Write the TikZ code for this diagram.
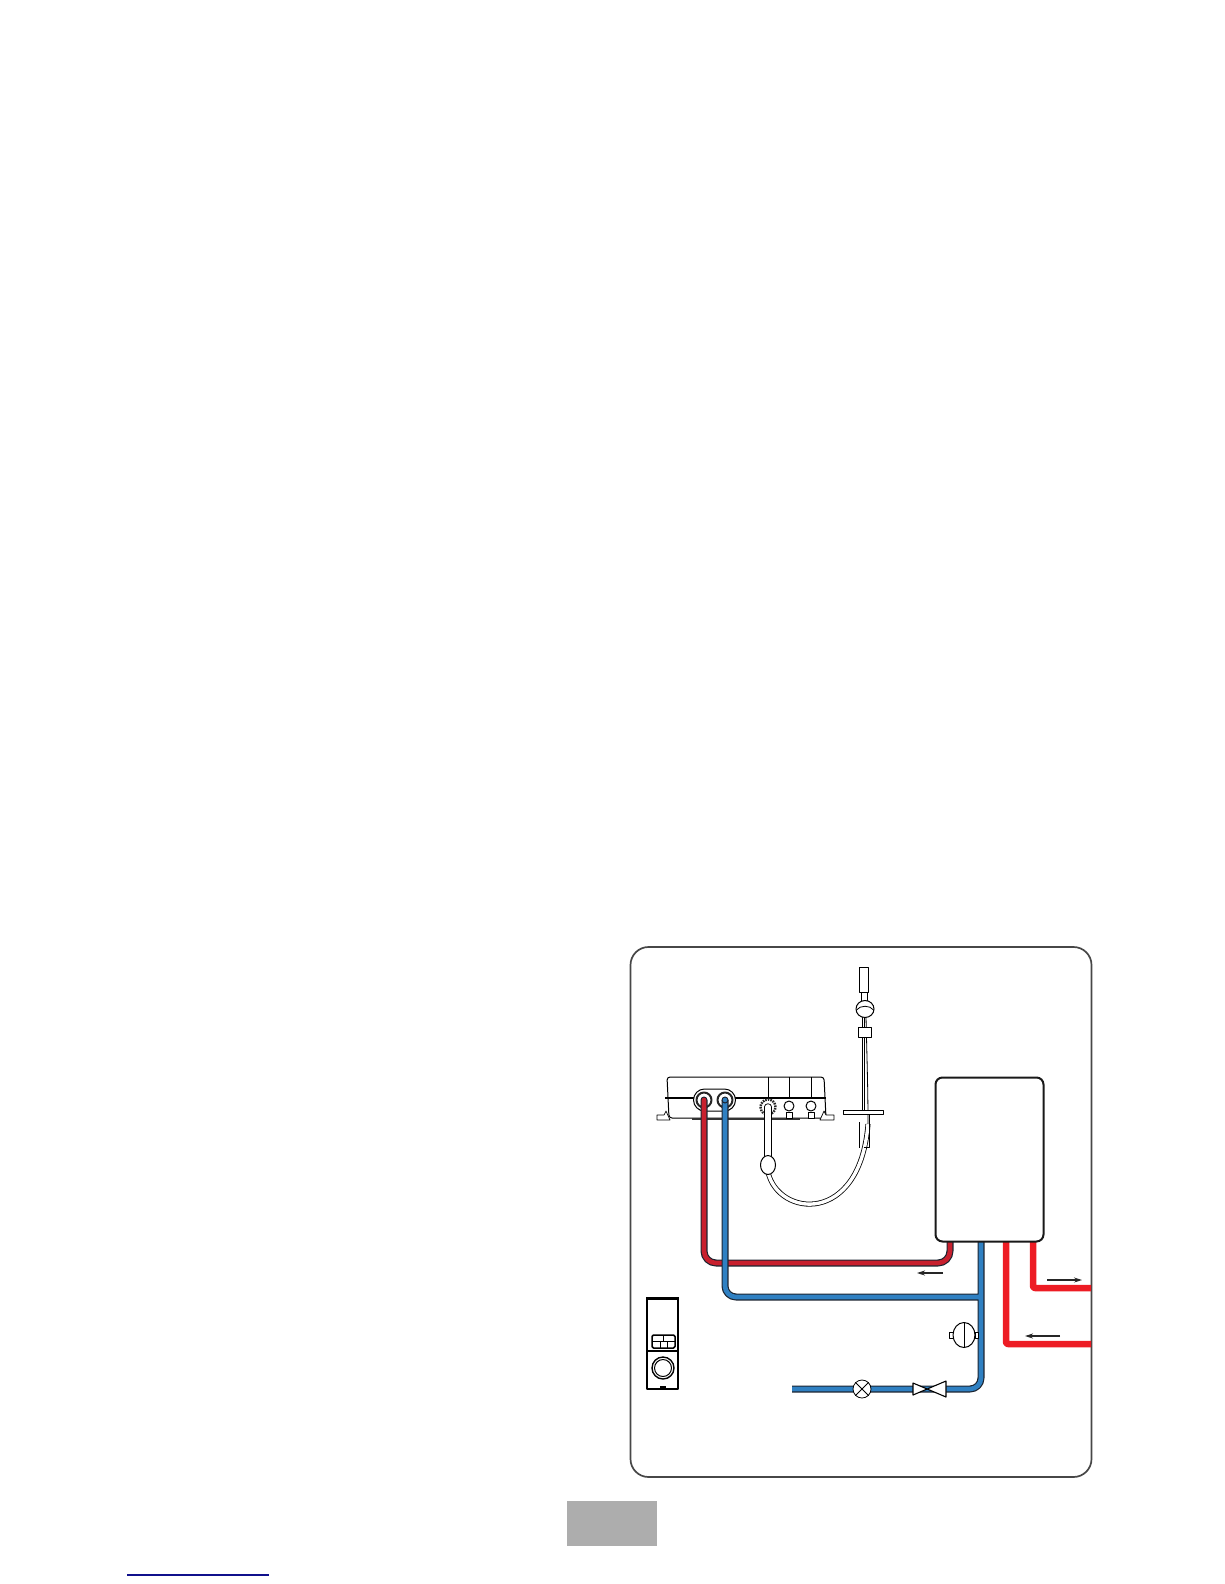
\documentclass[tikz,border=0pt]{standalone}
\usepackage{tikz}
\usetikzlibrary{positioning,arrows.meta,shapes.geometric}
\definecolor{hotred}{HTML}{ED1C24}
\definecolor{retred}{HTML}{C8202E}
\definecolor{coldblue}{HTML}{2F80C2}
\definecolor{pipeedge}{HTML}{1C2430}
\definecolor{tabgrey}{HTML}{ADADAD}
\definecolor{linkblue}{HTML}{10108C}
\begin{document}
\begin{tikzpicture}[x=1pt, y=-1pt, >={Stealth[length=8pt,width=5pt]}, line width=0.8pt, line join=round,
  panel/.style={draw=black!72, line width=1.7pt, rounded corners=18pt},
  box/.style={draw=black!90, fill=white, line width=2pt, rounded corners=7pt, minimum width=108pt, minimum height=164pt, inner sep=0pt},
  gland/.style={circle, draw=black!85, fill=white, line width=2pt, minimum size=15pt, inner sep=0pt},
  port/.style={circle, draw=black, fill=white, line width=1pt, minimum size=10pt, inner sep=0pt},
  hotpipe/.style={draw=hotred, line width=6.5pt, rounded corners=2pt},
  flow/.style={->, line width=1.1pt, black!85},
  part/.style={draw=black, fill=white, line width=0.8pt, inner sep=0pt}]
\useasboundingbox (0,0) rectangle (1224,1584);
\node[panel, minimum width=461pt, minimum height=530pt, inner sep=0pt] (frame) at (861,1212) {};
\node[fill=tabgrey, minimum width=90pt, minimum height=45pt, inner sep=0pt] (tab) at (612,1523.5) {};
\coordinate (linkl) at (127,1575); \coordinate (linkr) at (269,1575);
\draw[linkblue, line width=1.2pt] (linkl) -- (linkr);

\draw[part, line width=1pt, rounded corners=3pt] (669,1118) -- (667,1077) -- (824,1077) -- (826,1118) -- cycle;
\draw[line width=1.2pt] (665,1098) -- (826,1098);
\draw[part, line width=0.7pt] (657,1120) -- (657,1115) -- (664,1115) -- (666,1111) -- (670,1120) -- cycle;
\draw[part, line width=0.7pt] (834,1120) -- (834,1115) -- (826,1115) -- (824,1111) -- (820,1120) -- cycle;
\fill[black!80] (692,1118) rectangle (800,1120);
\draw (768,1077) -- (768,1098) (789,1077) -- (789,1098) (811,1077) -- (811,1098);
\node[draw=black, fill=white, rounded corners=11pt, line width=1pt, minimum width=42pt, minimum height=22pt, inner sep=0pt] (inlets) at (714.5,1100) {};
\node[gland] (glandret) at (704,1100) {};
\node[gland] (glandcold) at (725,1100) {};
\node[gland, dashed, dash pattern=on 1.6pt off 1pt, line width=2.4pt, minimum size=15pt] (glandhose) at (768,1107) {};
\node[port] (porta) at (789,1106) {};
\node[port] (portb) at (811,1106) {};
\draw[part] (786,1112) rectangle (792,1118);
\draw[part] (808,1112) rectangle (814,1118);

\draw[line width=7.4pt, black, line cap=round] (glandhose.center) -- (768,1160);
\draw[line width=5.6pt, white, line cap=round] (glandhose.center) -- (768,1160);
\draw[line width=5pt, black] (768,1172) .. controls (778,1217) and (860,1226) .. (868,1124);
\draw[line width=3.4pt, white] (768,1172) .. controls (778,1217) and (860,1226) .. (868,1124);
\node[ellipse, part, line width=1pt, minimum width=15pt, minimum height=19pt] (bulb) at (768,1165) {};

\draw (862,1017) -- (862,1111) (864.5,1017) -- (864.5,1111);
\draw (866,1017) .. controls (867,1060) and (868,1090) .. (868,1124);
\draw (859,1122) -- (859,1148) (869,1111) -- (869,1147) -- (864,1147);
\node[part, line width=1pt, minimum width=9pt, minimum height=25pt] (showerhead) at (863.5,979.5) {};
\draw (861.5,992) -- (861.5,1002) (867.5,992) -- (867.5,1002);
\node[ellipse, part, line width=1pt, minimum width=18pt, minimum height=17pt] (sprayball) at (865,1009) {};
\draw (856.5,1010) .. controls (860,1005) and (870,1005) .. (873.5,1010);
\node[part, minimum width=13pt, minimum height=10pt] (collar) at (864.5,1032) {};
\node[part, minimum width=40pt, minimum height=3.5pt] (railplate) at (863,1112.5) {};

\coordinate (retout) at (950,1242); \coordinate (coldout) at (981,1242);
\coordinate (flowa) at (1006,1242); \coordinate (flowb) at (1033,1242);
\coordinate (edgeb) at (1091,1288); \coordinate (edgea) at (1091,1344);
\coordinate (mainsend) at (792,1389);
\draw[line width=7pt, pipeedge, rounded corners=12pt, line cap=round] (retout) |- (704,1263) -- (glandret.center);
\draw[line width=4.6pt, retred, rounded corners=12pt, line cap=round] (retout) |- (704,1263) -- (glandret.center);
\foreach \pipecol/\pipew in {pipeedge/7, coldblue/4.6}
  \draw[line width=\pipew pt, \pipecol, rounded corners=11pt] (coldout) -- (981,1389) -- (mainsend)
    (981,1297) -- (725,1297) -- (glandcold.center);
\fill[pipeedge] (glandcold.center) circle (3.5pt);
\fill[coldblue] (glandcold.center) circle (2.3pt);
\draw[hotpipe] (flowb) |- (edgeb);
\draw[hotpipe] (flowa) |- (edgea);
\node[box] (boiler) at (989.5,1159.5) {};

\draw[flow] (943,1273) -- (917,1273);
\draw[flow] (1047,1280) -- (1082,1280);
\draw[flow] (1060,1336) -- (1025,1336);

\node[circle, part, minimum size=18pt] (strainer) at (862,1389) {};
\draw (strainer.45) -- (strainer.225) (strainer.135) -- (strainer.315);
\draw[part, line width=1.1pt] (913,1383) -- (946,1397) -- (946,1381) -- (913,1395) -- cycle;
\draw[part] (949,1332) rectangle (954,1338);
\draw[part] (975,1332) rectangle (978,1338);
\node[ellipse, part, line width=1pt, minimum width=22pt, minimum height=25pt] (vessel) at (964,1335) {};
\draw (964,1322.5) -- (964,1347.5);

\node[part, line width=1.5pt, minimum width=31pt, minimum height=90pt] (stat) at (662.5,1344) {};
\draw[line width=2pt] (stat.north west) -- (stat.north east);
\draw[line width=1.2pt] (stat.west |- 0,1351) -- (stat.east |- 0,1351);
\draw[line width=1.5pt, rounded corners=1.5pt] (652,1335) rectangle (675,1348);
\draw[line width=1pt] (652,1341) -- (675,1341) (660,1341) -- (660,1348) (667,1341) -- (667,1348) (663.5,1335) -- (663.5,1341);
\node[circle, part, line width=1.4pt, minimum size=22pt] (knob) at (663,1368) {};
\node[circle, part, line width=1pt, minimum size=17pt] (knobin) at (knob) {};
\fill[black] (660,1386) rectangle (666,1389);
\end{tikzpicture}
\end{document}
